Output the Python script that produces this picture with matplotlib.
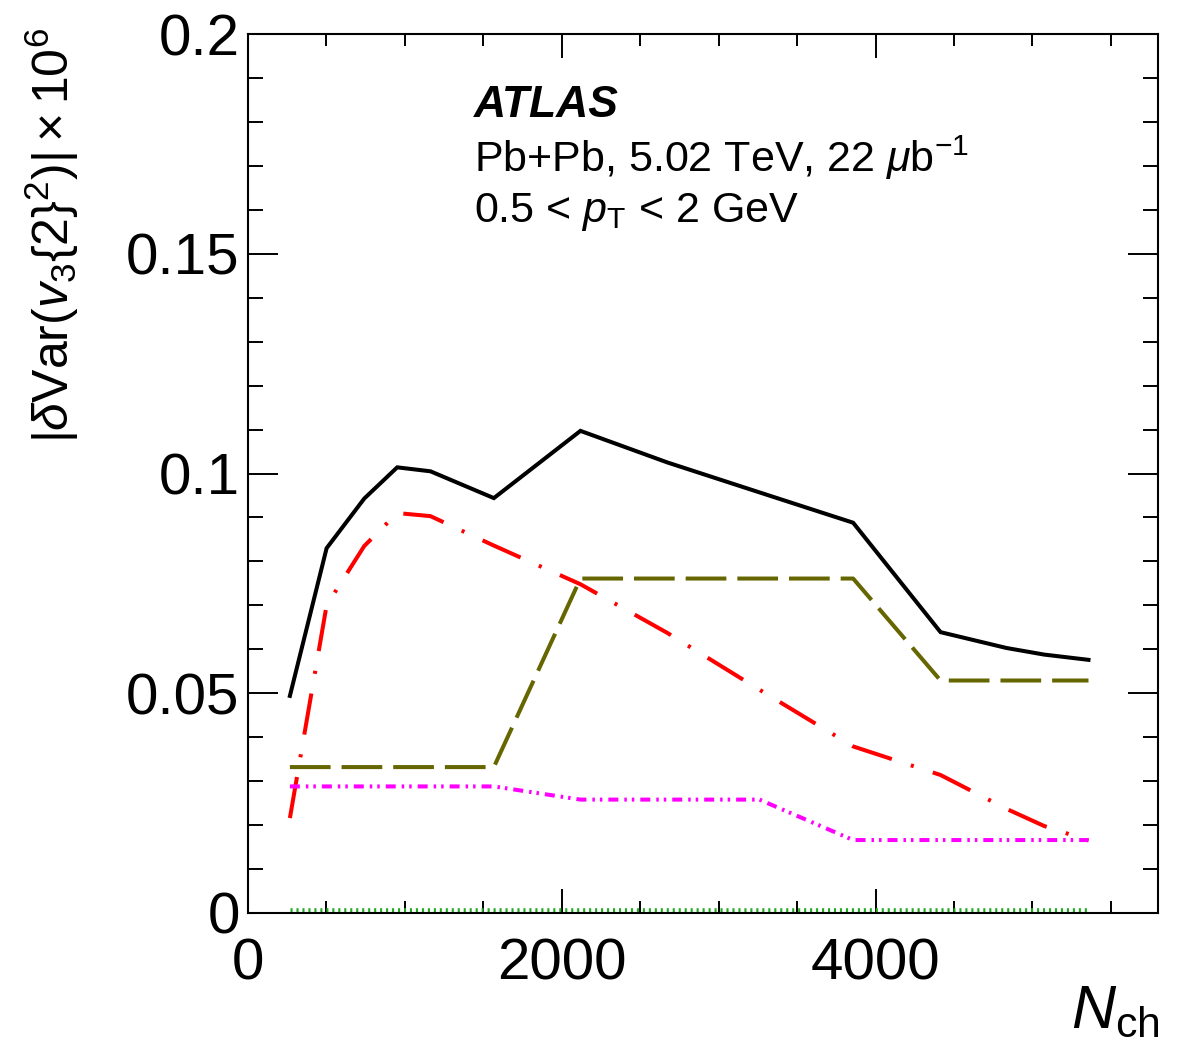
import numpy as np
import matplotlib
matplotlib.use("Agg")
import matplotlib.pyplot as plt
from matplotlib.ticker import MultipleLocator, FixedLocator

plt.rcParams['font.family'] = ['Liberation Sans', 'DejaVu Sans']
plt.rcParams['mathtext.fontset'] = 'custom'
plt.rcParams['mathtext.rm'] = 'Liberation Sans'
plt.rcParams['mathtext.it'] = 'Liberation Sans:italic'
plt.rcParams['mathtext.bf'] = 'Liberation Sans:bold'
plt.rcParams['lines.scale_dashes'] = False

# N_ch bin positions
nch = [267, 501, 741, 951, 1163, 1567, 2119, 2674, 3260, 3857, 4414, 4834, 5074, 5357]

# |dVar(v3{2}^2)| x 1e6 for each source
total = [0.0494, 0.0830, 0.0943, 0.1014, 0.1005, 0.0944, 0.1097,
         0.1025, 0.0957, 0.0888, 0.0639, 0.0603, 0.0588, 0.0576]
red_src = [0.0216, 0.0700, 0.0835, 0.0910, 0.0903, 0.0836, 0.0748,
           0.0637, 0.0508, 0.0379, 0.0314, 0.0237, 0.0198, 0.0165]
olive_src = [0.0332, 0.0332, 0.0332, 0.0332, 0.0332, 0.0332, 0.0761,
             0.0761, 0.0761, 0.0761, 0.0529, 0.0529, 0.0529, 0.0529]
magenta_src = [0.0288, 0.0288, 0.0288, 0.0288, 0.0288, 0.0288, 0.0258,
               0.0258, 0.0258, 0.0166, 0.0166, 0.0166, 0.0166, 0.0166]
green_src = [0.0003] * 14

yticks = [0, 0.05, 0.1, 0.15, 0.2]
ytick_labels = ['0', '0.05', '0.1', '0.15', '0.2']
xticks = [0, 2000, 4000]
xtick_labels = ['0', '2000', '4000']

W, H = 1182, 1059
fig = plt.figure(figsize=(W / 100, H / 100), dpi=100)
ax = fig.add_axes([248 / W, 1 - 913 / H, 910 / W, 879 / H])

lw = 2.9
ax.plot(nch, total, color='black', lw=lw, solid_joinstyle='miter')
ax.plot(nch, red_src, color='#ff0000', lw=lw, linestyle=(0, (30, 14.4, 2.2, 14.4)))
ax.plot(nch, olive_src, color='#666600', lw=lw, linestyle=(0, (29.3, 7.9)))
ax.plot(nch, magenta_src, color='#ff00ff', lw=lw,
        linestyle=(0, (7.2, 4.3, 1.8, 3.6, 1.8, 4.3)))
ax.plot(nch, green_src, color='#22aa22', lw=6.2, dash_capstyle='butt',
        linestyle=(0, (1.5, 2.8)))

ax.set_xlim(0, 5800)
ax.set_ylim(0, 0.2)

ax.xaxis.set_major_locator(FixedLocator(xticks))
ax.set_xticklabels(xtick_labels)
ax.xaxis.set_minor_locator(MultipleLocator(500))
ax.yaxis.set_major_locator(FixedLocator(yticks))
ax.set_yticklabels(ytick_labels)
ax.yaxis.set_minor_locator(MultipleLocator(0.01))

ax.tick_params(axis='both', which='both', direction='in', top=True, right=True,
               width=1.4, labelsize=42)
ax.tick_params(axis='x', which='major', length=17, pad=18)
ax.tick_params(axis='x', which='minor', length=8.6)
ax.tick_params(axis='y', which='major', length=21.6, pad=6)
ax.tick_params(axis='y', which='minor', length=10.8)
for s in ax.spines.values():
    s.set_linewidth(1.5)

# axis titles
fig.text(52 / W, 1 - 28 / H, r'$|\delta\mathrm{Var}(v_3\{2\}^2)|\times10^6$',
         rotation=90, ha='center', va='top', fontsize=36)
fig.text(1160 / W, 1 - 1040 / H, r'$N_{\mathrm{ch}}$', ha='right', va='bottom',
         fontsize=44)

# ATLAS label
fig.text(474 / W, 1 - 117 / H, 'ATLAS', fontsize=32, fontweight='bold',
         style='italic', ha='left', va='baseline')
fig.text(474 / W, 1 - 172 / H, r'Pb+Pb, 5.02 TeV, 22 $\mu$b$^{\mathrm{-1}}$',
         fontsize=31, ha='left', va='baseline')
fig.text(474 / W, 1 - 222 / H, r'0.5 < $p_{\mathrm{T}}$ < 2 GeV', fontsize=31,
         ha='left', va='baseline')

fig.savefig('out.png', dpi=100)
